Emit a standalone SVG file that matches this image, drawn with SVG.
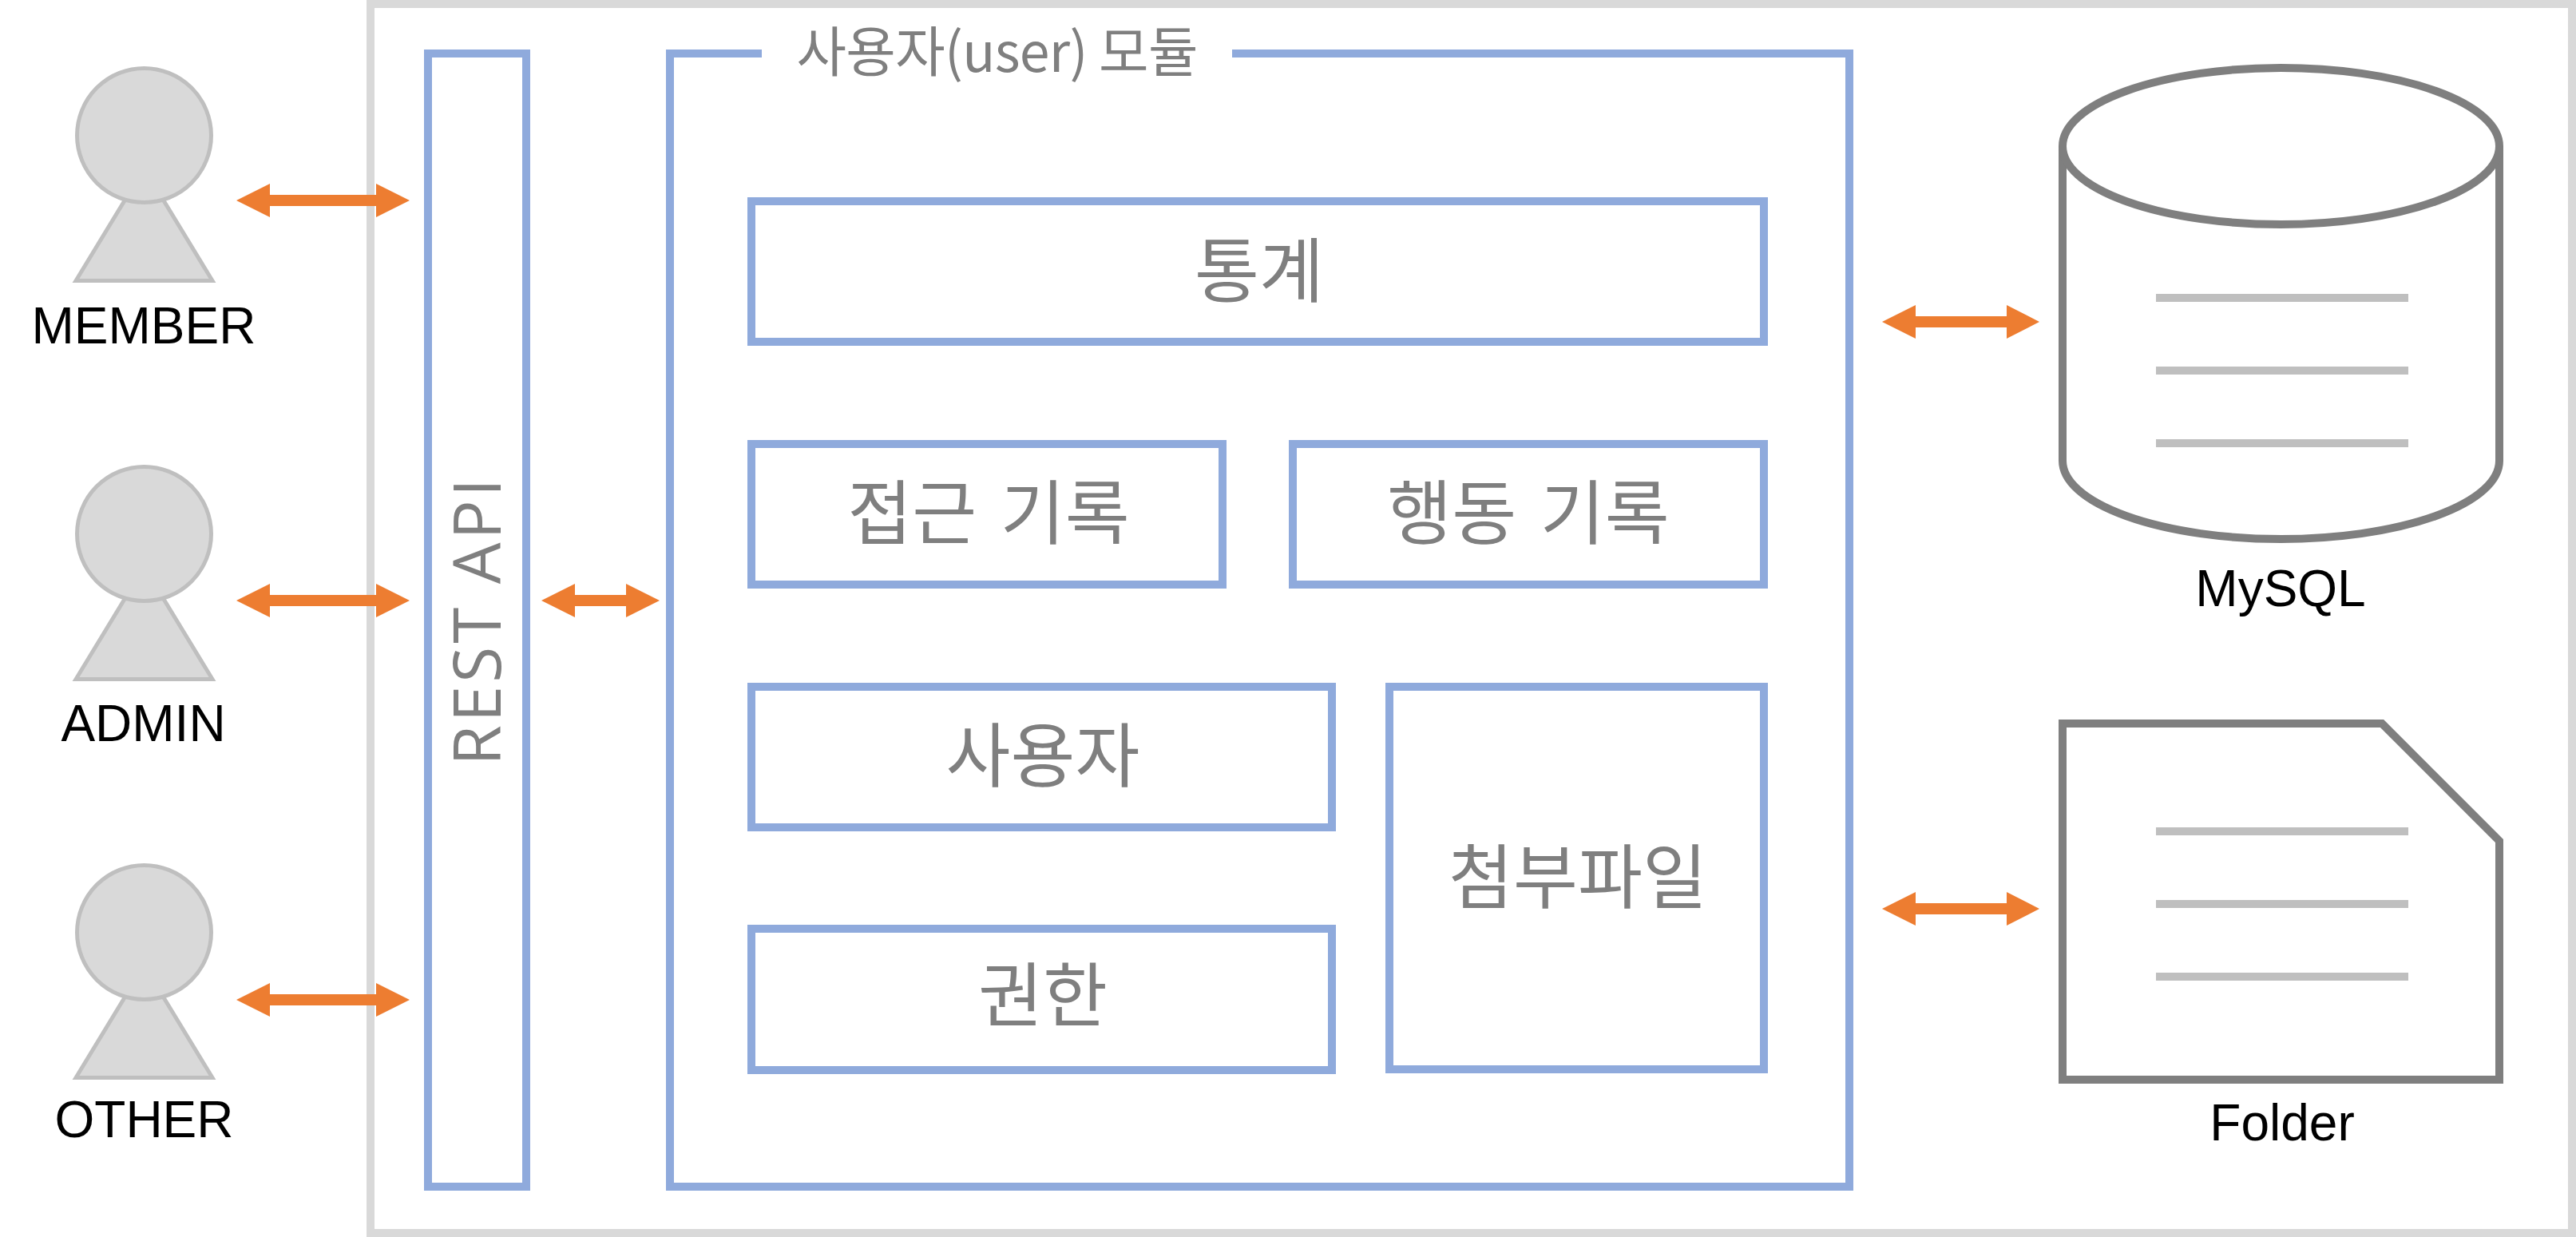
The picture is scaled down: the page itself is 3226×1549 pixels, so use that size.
<svg xmlns="http://www.w3.org/2000/svg" width="3226" height="1549" viewBox="0 0 3226 1549">
<style>
.box{fill:none;stroke:#8faadc;stroke-width:10}
.ko{font-family:"Noto Sans CJK KR","Liberation Sans",sans-serif;fill:#7f7f7f;text-anchor:middle;font-size:88px}
.wide{word-spacing:10px}
.lb{font-family:"Liberation Sans",sans-serif;fill:#000;text-anchor:middle;font-size:64px}
.act{fill:#d9d9d9;stroke:#bfbfbf;stroke-width:5}
.dark{fill:none;stroke:#7f7f7f;stroke-width:10}
.ln{fill:#bfbfbf}
.ar{fill:#ed7d31}
</style>
<defs>
<g id="actor"><path class="act" d="M95 351.500L180.500 211L266 351.500Z"/><circle class="act" cx="180.500" cy="169.500" r="84"/></g>
</defs>
<rect id="frame" x="464" y="5" width="2757" height="1539" fill="none" stroke="#d9d9d9" stroke-width="10"/>
<g id="member"><use href="#actor"/><text class="lb" x="180" y="430">MEMBER</text></g>
<g id="admin"><use href="#actor" y="499"/><text class="lb" x="179.500" y="928">ADMIN</text></g>
<g id="other"><use href="#actor" y="998"/><text class="lb" x="180.500" y="1424">OTHER</text></g>
<g id="rest-api"><rect class="box" x="536" y="67" width="123" height="1419"/><text transform="translate(627 777) rotate(-90)" font-family="Open Sans,sans-serif" font-size="82" letter-spacing="4" fill="#7f7f7f" text-anchor="middle">REST API</text></g>
<g id="user-module"><path class="box" d="M954 67H839V1486H2316V67H1543"/><text class="ko" x="1249" y="90" style="font-size:68px" textLength="503" lengthAdjust="spacing">사용자(user) 모듈</text></g>
<g id="stats"><rect class="box" x="941" y="252" width="1268" height="176"/><text class="ko" x="1577" y="371">통계</text></g>
<g id="access-log"><rect class="box" x="941" y="556" width="590" height="176"/><text class="ko wide" x="1238" y="674">접근 기록</text></g>
<g id="action-log"><rect class="box" x="1619" y="556" width="590" height="176"/><text class="ko wide" x="1914" y="674">행동 기록</text></g>
<g id="user"><rect class="box" x="941" y="860" width="727" height="176"/><text class="ko" x="1306" y="978">사용자</text></g>
<g id="auth"><rect class="box" x="941" y="1163" width="727" height="177"/><text class="ko" x="1306" y="1278">권한</text></g>
<g id="attach"><rect class="box" x="1740" y="860" width="469" height="479"/><text class="ko" x="1976" y="1130">첨부파일</text></g>
<g id="mysql"><path class="dark" d="M2583 183V577A273.500 98 0 0 0 3130 577V183"/><ellipse class="dark" cx="2856.500" cy="183" rx="273.500" ry="98"/><rect class="ln" x="2700" y="368" width="316" height="10"/><rect class="ln" x="2700" y="459" width="316" height="10"/><rect class="ln" x="2700" y="550" width="316" height="10"/><text class="lb" x="2856" y="759">MySQL</text></g>
<g id="folder"><path class="dark" d="M2583 906H2983L3130 1053V1352H2583Z"/><rect class="ln" x="2700" y="1036" width="316" height="10"/><rect class="ln" x="2700" y="1127" width="316" height="10"/><rect class="ln" x="2700" y="1218" width="316" height="10"/><text class="lb" x="2858" y="1428">Folder</text></g>
<g id="connectors">
<path class="ar" d="M296 251L338 230V244H471V230L513 251L471 272V258H338V272Z"/>
<path class="ar" d="M296 752L338 731V745H471V731L513 752L471 773V759H338V773Z"/>
<path class="ar" d="M296 1252L338 1231V1245H471V1231L513 1252L471 1273V1259H338V1273Z"/>
<path class="ar" d="M678 752L720 731V745H784V731L826 752L784 773V759H720V773Z"/>
<path class="ar" d="M2357 403L2399 382V396H2513V382L2554 403L2513 424V410H2399V424Z"/>
<path class="ar" d="M2357 1138L2399 1117V1131H2513V1117L2554 1138L2513 1159V1145H2399V1159Z"/>
</g>
</svg>
